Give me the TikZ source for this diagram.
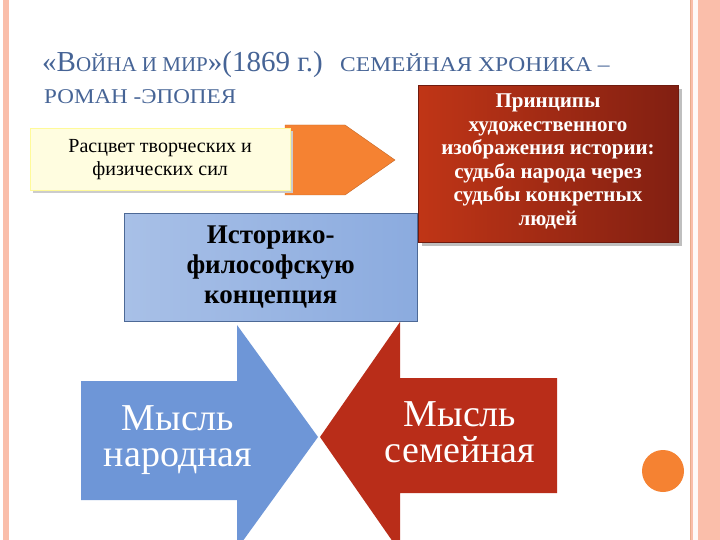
\documentclass[tikz,border=0pt]{standalone}
\usepackage{fontspec}
\setmainfont{Liberation Serif}
\usetikzlibrary{shadows}
\definecolor{ttl}{RGB}{70,100,150}
\definecolor{bl}{RGB}{110,150,215}
\definecolor{rd}{RGB}{185,45,25}
\definecolor{pk}{RGB}{250,190,170}
\definecolor{orng}{RGB}{245,130,50}
\tikzset{txt/.style={align=center,inner sep=0pt}}
\newcommand{\bigf}{\fontsize{29}{32}\selectfont}
\newcommand{\smf}{\fontsize{21}{24}\selectfont}
\begin{document}
\begin{tikzpicture}[x=1pt,y=-1pt]
\useasboundingbox (0,0) rectangle (720,540);
\fill[white] (0,0) rectangle (720,540);
% borders
\fill[pk] (3,0) rectangle (9,540);
\fill[pk] (690,0) rectangle (720,540);
\fill[white!90!pk] (693,0) rectangle (698,540);
\draw[pk!70!brown,line width=0.8] (690,0) -- (690,540);
% title
\node[txt,anchor=base west,text=ttl,font=\smf] (t1) at (42,72) {{\bigf«В}ОЙНА И МИР{\bigf»(1869 г.)}};
\node[txt,anchor=base west,text=ttl,font=\smf,xscale=1.12] (t2) at (340,72) {СЕМЕЙНАЯ ХРОНИКА –};
\node[txt,anchor=base west,text=ttl,font=\smf,xscale=1.1] (t3) at (44,104) {РОМАН -ЭПОПЕЯ};
% red box
\fill[black!25] (422,89) rectangle (682,246);
\node[draw=rd!60!black,minimum width=260,minimum height=157,anchor=north west,
  left color=rd!90!orange, right color=rd!70!black] (rb) at (418,85) {};
\node[txt,anchor=north,text=white,font=\bfseries\fontsize{21}{23.5}\selectfont] (rt) at (548,94)
  {Принципы\\художественного\\изображения истории:\\судьба народа через\\судьбы конкретных\\людей};
% top arrow
\fill[orng,draw=orng!80!black] (285,125) -- (345,125) -- (395,160) -- (345,195) -- (285,195) -- cycle;
\fill[black!20] (33,131) rectangle (293,193);
\node[fill=yellow!12,draw=yellow!40,minimum width=260,minimum height=62,anchor=north west,
  font=\fontsize{20}{23}\selectfont,align=center] (yb) at (30,128) {Расцвет творческих и\\физических сил};
% blue box
\node[draw=bl!70!black,left color=bl!60!white,right color=bl!80!white,minimum width=293,minimum height=108,anchor=north west,
  font=\bfseries\fontsize{27}{30}\selectfont,align=center] (bb) at (124,213) {Историко-\\философскую\\концепция};
% blue arrow
\fill[bl] (81,381) -- (237,381) -- (237,325) -- (318,437) -- (237,549) -- (237,500) -- (81,500) -- cycle;
\node[txt,text=white,font=\fontsize{38}{36}\selectfont] (bn) at (178,440) {Мысль\\народная};
% red arrow
\fill[rd] (557,378) -- (400,378) -- (400,322) -- (320,437) -- (400,552) -- (400,493) -- (557,493) -- cycle;
\node[txt,text=white,font=\fontsize{38}{36}\selectfont] (rn) at (460,432) {Мысль\\семейная};
% circle
\fill[orng] (663,471) circle (21);
\end{tikzpicture}
\end{document}
